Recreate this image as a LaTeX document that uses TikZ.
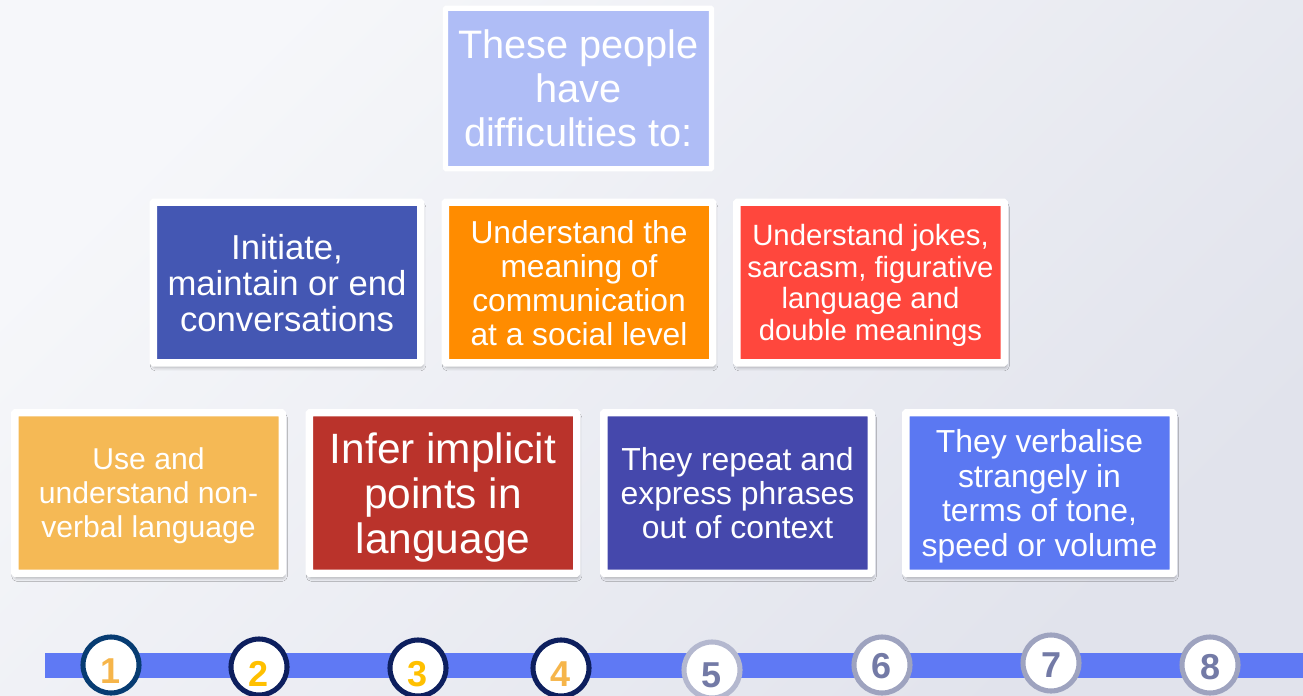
\documentclass[tikz,border=0pt]{standalone}
\usepackage{fontspec}
\setmainfont{Liberation Sans}
\usetikzlibrary{shadows.blur}

\definecolor{bgLight}{HTML}{F6F7FA}
\definecolor{bgDark}{HTML}{E1E3EC}
\definecolor{headBlue}{HTML}{AFBDF6}
\definecolor{initBlue}{HTML}{4457B3}
\definecolor{meanOrange}{HTML}{FF8C00}
\definecolor{jokeRed}{HTML}{FF473D}
\definecolor{gestOrange}{HTML}{F5B955}
\definecolor{inferRed}{HTML}{BA332B}
\definecolor{repIndigo}{HTML}{4548AC}
\definecolor{verbBlue}{HTML}{5B78F2}
\definecolor{barBlue}{HTML}{5F79F4}
\definecolor{ringNavy}{HTML}{0D1F5E}
\definecolor{ringBlue}{HTML}{073C72}
\definecolor{ringGrey}{HTML}{9EA3BF}
\definecolor{ringPale}{HTML}{B4B8CF}
\definecolor{numGold}{HTML}{FFC000}
\definecolor{numAmber}{HTML}{F6B54A}
\definecolor{numSlate}{HTML}{737AA6}

\begin{document}
\begin{tikzpicture}[x=0.75pt,y=-0.75pt,
  frame/.style={draw=white, rounded corners=0.6pt, inner sep=0pt, align=center, text=white, text depth=0pt},
  card/.style={frame, line width=5.6pt, minimum width=200.6pt, minimum height=120.4pt,
    blur shadow={shadow xshift=0.8pt, shadow yshift=-3pt, shadow blur radius=3pt, shadow opacity=40}},
  ring/.style={circle, draw, line width=3.8pt, fill=white, minimum size=42pt, inner sep=0pt},
  digit/.style={font=\fontsize{27pt}{27pt}\selectfont\bfseries}]
\useasboundingbox (0,0) rectangle (1303,696);
\shade[top color=bgLight, bottom color=bgDark, shading angle=45] (0,0) rectangle (1303,696);

\node[frame, fill=headBlue, line width=3.8pt, minimum width=199.5pt, minimum height=120.4pt,
  font=\fontsize{29.8pt}{33pt}\selectfont] (head) at (578.5,88.5) {These people\\have\\difficulties to:};

\node[card, fill=initBlue, font=\fontsize{26pt}{27pt}\selectfont] (initiate) at (287,282.5)
  {Initiate,\\maintain or end\\conversations};
\node[card, fill=meanOrange, font=\fontsize{23.8pt}{25.5pt}\selectfont] (meaning) at (579,282.5)
  {Understand the\\meaning of\\communication\\at a social level};
\node[card, fill=jokeRed, font=\fontsize{22pt}{23.6pt}\selectfont] (jokes) at (870.5,282.5)
  {Understand jokes,\\sarcasm, figurative\\language and\\double meanings};

\node[card, fill=gestOrange, font=\fontsize{22.6pt}{25.5pt}\selectfont] (nonverbal) at (148.5,493)
  {Use and\\understand non-\\verbal language};
\node[card, fill=inferRed, font=\fontsize{31.8pt}{34pt}\selectfont] (infer) at (443,493)
  {Infer implicit\\points in\\language};
\node[card, fill=repIndigo, font=\fontsize{23.9pt}{25.5pt}\selectfont] (repeat) at (737.5,493)
  {They repeat and\\express phrases\\out of context};
\node[card, fill=verbBlue, font=\fontsize{23.9pt}{25.8pt}\selectfont] (verbalise) at (1039.5,493)
  {They verbalise\\strangely in\\terms of tone,\\speed or volume};

\fill[barBlue] (45,653) rectangle (1310,678);

\node[ring, draw=ringBlue] (s1) at (111,665) {};
\node[ring, draw=ringNavy] (s2) at (259,667) {};
\node[ring, draw=ringNavy] (s3) at (418,668) {};
\node[ring, draw=ringNavy] (s4) at (561,668) {};
\node[ring, draw=ringPale] (s5) at (712,670) {};
\node[ring, draw=ringGrey] (s6) at (882,665) {};
\node[ring, draw=ringGrey] (s7) at (1051,663) {};
\node[ring, draw=ringGrey] (s8) at (1210,665) {};

\node[digit, text=numAmber] (n1) at (111,671) {1};
\node[digit, text=numGold] (n2) at (259,674) {2};
\node[digit, text=numGold] (n3) at (418,674) {3};
\node[digit, text=numAmber] (n4) at (561,674.5) {4};
\node[digit, text=numSlate] (n5) at (712,675) {5};
\node[digit, text=numSlate] (n6) at (882,666) {6};
\node[digit, text=numSlate] (n7) at (1051,665) {7};
\node[digit, text=numSlate] (n8) at (1210,667) {8};
\end{tikzpicture}
\end{document}
